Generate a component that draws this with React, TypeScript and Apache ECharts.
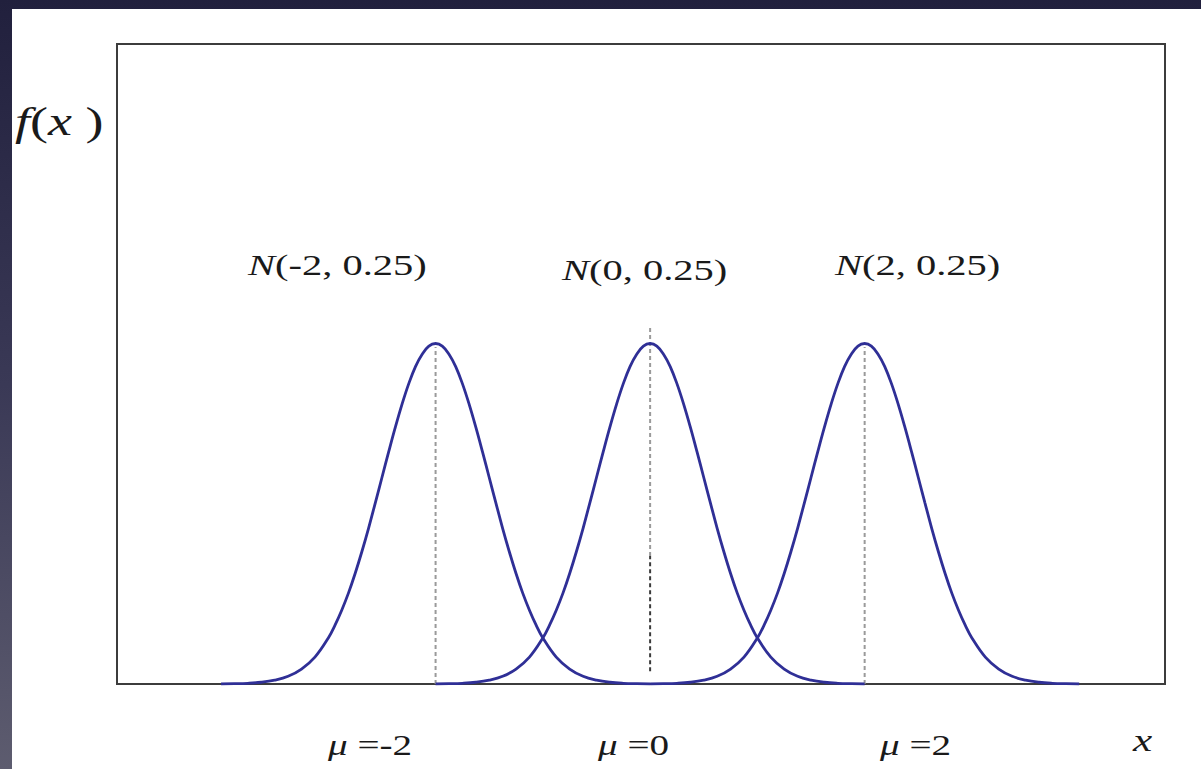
import React, { useEffect, useRef } from "react";
import * as echarts from "echarts";

// Means of the three normal curves, all with variance 0.25
const means = [-2, 0, 2];
const curveNames = ["N(-2, 0.25)", "N(0, 0.25)", "N(2, 0.25)"];
const meanTickLabels = ["-2", "0", "2"];

// Shape of each bell around its own mean: offset from the mean and density height
const profileOffsets = [
  -2, -1.875, -1.75, -1.625, -1.5, -1.375, -1.25, -1.125,
  -1, -0.9375, -0.875, -0.8125, -0.75, -0.6875, -0.625, -0.5625, -0.5, -0.4375, -0.375, -0.3125,
  -0.25, -0.1875, -0.125, -0.0625, 0, 0.0625, 0.125, 0.1875, 0.25,
  0.3125, 0.375, 0.4375, 0.5, 0.5625, 0.625, 0.6875, 0.75, 0.8125, 0.875, 0.9375, 1,
  1.125, 1.25, 1.375, 1.5, 1.625, 1.75, 1.875, 2,
];
const profileHeights = [
  0.0003, 0.0007, 0.0017, 0.0041, 0.009, 0.018, 0.035, 0.063,
  0.108, 0.138, 0.173, 0.213, 0.259, 0.31, 0.365, 0.424, 0.484, 0.544, 0.602, 0.656,
  0.704, 0.744, 0.773, 0.792, 0.798, 0.792, 0.773, 0.744, 0.704,
  0.656, 0.602, 0.544, 0.484, 0.424, 0.365, 0.31, 0.259, 0.213, 0.173, 0.138, 0.108,
  0.063, 0.035, 0.018, 0.009, 0.0041, 0.0017, 0.0007, 0.0003,
];

// Vertical dashed guides at the means: x position, lower end, upper end
const guideXs = [-2, 0, 0, 2];
const guideBottoms = [0, 0.3, 0.03, 0];
const guideTops = [0.79, 0.835, 0.3, 0.79];
const guideColors = ["#9a9a9a", "#9a9a9a", "#3a3a3a", "#9a9a9a"];

const FONT = '"Liberation Serif", "Times New Roman", serif';
const STRETCH = 1.35;

export default function App() {
  const ref = useRef<HTMLDivElement>(null);

  useEffect(() => {
    if (!ref.current) return;
    const chart = echarts.init(ref.current, undefined, { renderer: "svg" });

    const curveSeries = means.map((mu, i) => ({
      type: "line",
      name: curveNames[i],
      data: profileOffsets.map((d, k) => [mu + d, profileHeights[k]]),
      smooth: 0.4,
      showSymbol: false,
      clip: false,
      lineStyle: { color: "#2f2f96", width: 2.8 },
      z: 3,
    }));

    const guideSeries = guideXs.map((gx, i) => ({
      type: "line",
      data: [
        [gx, guideBottoms[i]],
        [gx, guideTops[i]],
      ],
      showSymbol: false,
      clip: false,
      lineStyle: { color: guideColors[i], width: 2, type: [4, 3] },
      z: 2,
    }));

    const textStyleBase = { fontFamily: FONT, fill: "#1a1a1a" };

    const nLabelPos = [
      [236, 256],
      [550, 261],
      [823, 256],
    ];
    const muLabelPos = [
      [316, 736],
      [586, 736],
      [868, 736],
    ];

    const graphics: any[] = [
      {
        type: "text",
        x: 3,
        y: 113,
        scaleX: STRETCH,
        style: {
          ...textStyleBase,
          text: "{i|f}({i|x} )",
          fontSize: 40,
          verticalAlign: "middle",
          align: "left",
          rich: { i: { fontStyle: "italic", fontFamily: FONT, fontSize: 40 } },
        },
      },
      {
        type: "text",
        x: 1121,
        y: 731,
        scaleX: STRETCH,
        style: {
          ...textStyleBase,
          text: "x",
          fontStyle: "italic",
          fontSize: 32,
          verticalAlign: "middle",
          align: "left",
        },
      },
    ];

    curveNames.forEach((name, i) => {
      graphics.push({
        type: "text",
        x: nLabelPos[i][0],
        y: nLabelPos[i][1],
        scaleX: STRETCH,
        style: {
          ...textStyleBase,
          text: "{i|N}" + name.slice(1),
          fontSize: 30,
          verticalAlign: "middle",
          align: "left",
          rich: { i: { fontStyle: "italic", fontFamily: FONT, fontSize: 30 } },
        },
      });
    });

    meanTickLabels.forEach((t, i) => {
      graphics.push({
        type: "text",
        x: muLabelPos[i][0],
        y: muLabelPos[i][1],
        scaleX: STRETCH,
        style: {
          ...textStyleBase,
          text: "{m|μ} =" + t,
          fontSize: 29,
          verticalAlign: "middle",
          align: "left",
          rich: { m: { fontStyle: "italic", fontFamily: FONT, fontSize: 29, color: "#707070" } },
        },
      });
    });

    chart.setOption({
      animation: false,
      backgroundColor: "#ffffff",
      grid: {
        left: 105,
        top: 35,
        right: 36,
        bottom: 85,
        show: true,
        borderColor: "#3c3c3c",
        borderWidth: 2,
        backgroundColor: "transparent",
      },
      xAxis: {
        type: "value",
        min: -4.97,
        max: 4.8,
        axisLine: { show: false },
        axisTick: { show: false },
        axisLabel: { show: false },
        splitLine: { show: false },
      },
      yAxis: {
        type: "value",
        min: 0,
        max: 1.5,
        axisLine: { show: false },
        axisTick: { show: false },
        axisLabel: { show: false },
        splitLine: { show: false },
      },
      series: [...guideSeries, ...curveSeries],
      graphic: graphics,
    });

    return () => chart.dispose();
  }, []);

  return (
    <div
      style={{
        position: "fixed",
        left: 0,
        top: 0,
        width: 1201,
        height: 769,
        background: "linear-gradient(to bottom, #21203d 0%, #3a3956 50%, #5d5c6f 100%)",
        overflow: "hidden",
      }}
    >
      <div
        ref={ref}
        style={{ position: "absolute", left: 12, top: 9, width: 1189, height: 760, background: "#fff" }}
      />
    </div>
  );
}
